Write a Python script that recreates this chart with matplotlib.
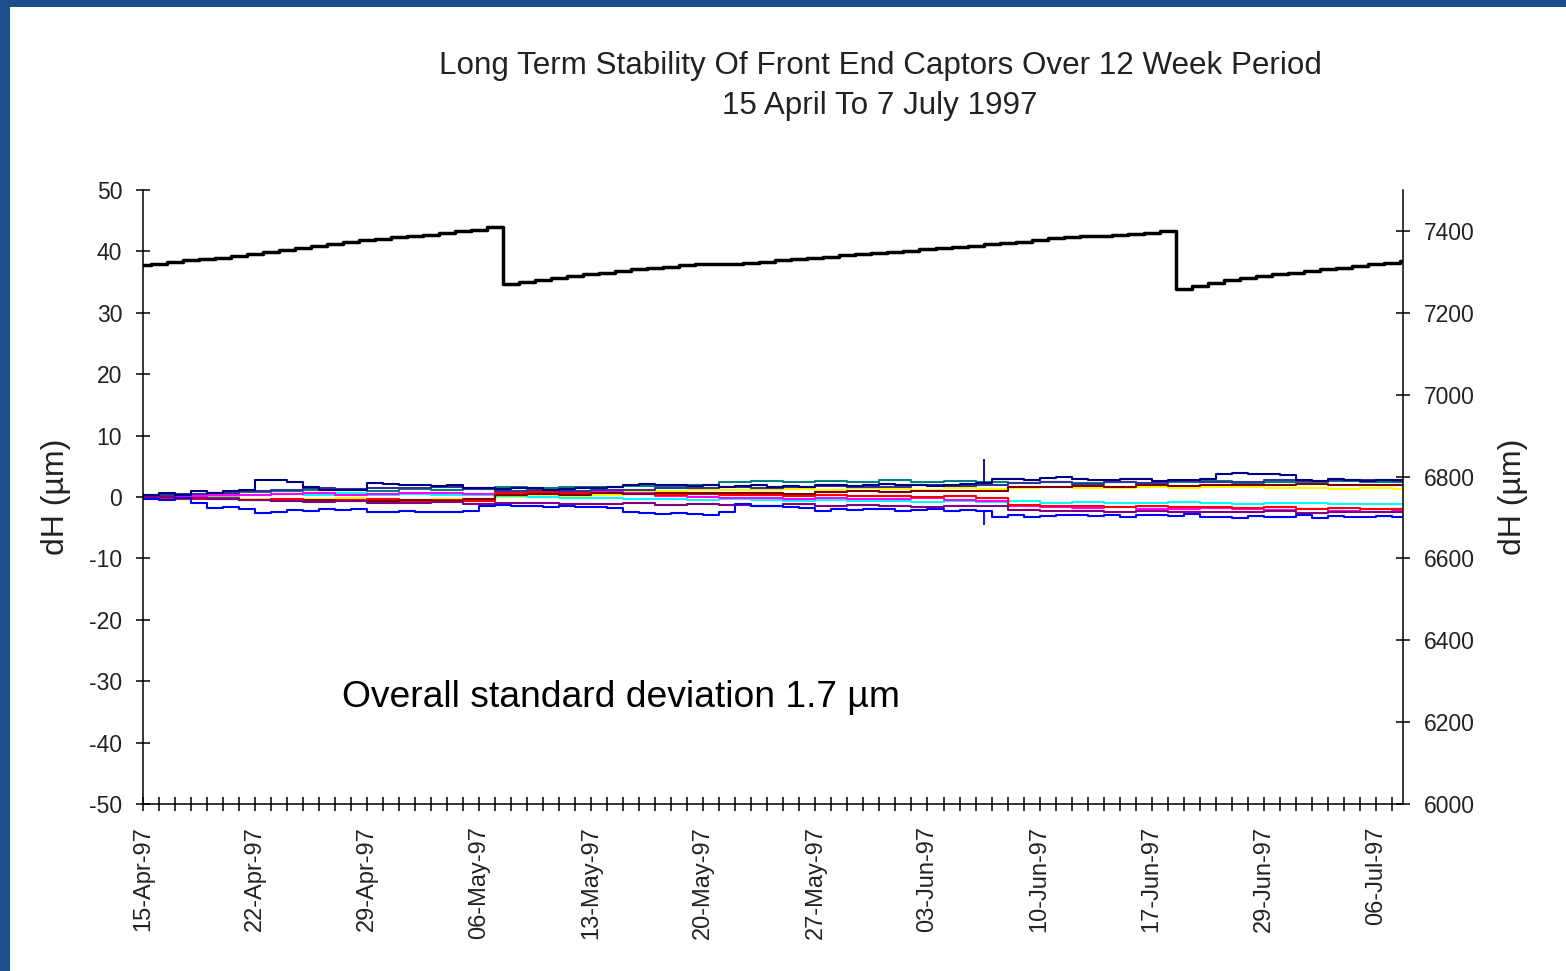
import numpy as np
import matplotlib
matplotlib.use('Agg')
import matplotlib.pyplot as plt
from matplotlib.patches import Rectangle

plt.rcParams['font.family'] = ['Liberation Sans', 'DejaVu Sans']
plt.rcParams['axes.unicode_minus'] = False

# category axis: one slot per measurement day, labelled once a week
TICK_LABELS = ['15-Apr-97', '22-Apr-97', '29-Apr-97', '06-May-97', '13-May-97', '20-May-97',
               '27-May-97', '03-Jun-97', '10-Jun-97', '17-Jun-97', '29-Jun-97', '06-Jul-97']
LABEL_DAYS = [0, 7, 14, 21, 28, 35, 42, 49, 56, 63, 70, 77]
N_TICKS = 79

# reference captor height (right axis), one value per day
REF_HEIGHT = [7317, 7320, 7324, 7328, 7331, 7335, 7339, 7344, 7348, 7353,
              7358, 7362, 7367, 7372, 7377, 7380, 7384, 7387, 7391, 7395,
              7399, 7402, 7410, 7271, 7275, 7280, 7285, 7290, 7295, 7298,
              7302, 7306, 7310, 7313, 7316, 7318, 7319, 7320, 7322, 7325,
              7328, 7331, 7334, 7337, 7340, 7343, 7346, 7349, 7352, 7355,
              7358, 7361, 7364, 7367, 7370, 7374, 7378, 7382, 7386, 7388,
              7388, 7390, 7392, 7395, 7399, 7258, 7266, 7272, 7280, 7286,
              7290, 7294, 7298, 7302, 7306, 7310, 7314, 7318, 7322, 7326]

# dH of the front end captors (left axis), daily readings for the outer two
DH_NAVY = [0.3, 0.6, 0.4, 0.9, 0.7, 1.0, 1.1, 2.7, 2.8, 2.5, 1.6, 1.2, 1.1, 1.1, 2.2, 2.1,
           1.9, 2.0, 1.8, 1.9, 1.5, 1.4, 1.3, 1.5, 1.4, 1.2, 1.3, 1.5, 1.4, 1.6, 2.0, 2.1,
           1.9, 2.0, 1.8, 1.9, 1.7, 1.8, 1.9, 1.6, 1.8, 1.7, 1.9, 2.0, 1.8, 1.9, 2.1, 1.9,
           2.0, 1.8, 2.0, 2.1, 2.2, 3.0, 3.0, 2.8, 3.1, 3.2, 3.0, 2.8, 2.7, 2.9, 3.0, 2.6,
           2.8, 2.7, 3.0, 3.8, 3.9, 3.7, 3.8, 3.6, 2.8, 2.6, 2.9, 2.7, 2.6, 2.8, 2.7, 2.7, 2.7]
DH_BLUE = [-0.3, -0.5, -0.2, -1.0, -1.8, -1.7, -1.9, -2.6, -2.5, -2.1, -2.2, -2.0, -2.1, -2.0,
           -2.4, -2.5, -2.3, -2.4, -2.4, -2.5, -2.3, -1.4, -1.3, -1.5, -1.4, -1.6, -1.5, -1.7,
           -1.6, -1.8, -2.4, -2.6, -2.8, -2.6, -2.7, -2.9, -2.5, -1.2, -1.5, -1.4, -1.6, -1.8,
           -2.2, -2.0, -2.1, -1.9, -2.0, -2.2, -2.1, -2.0, -2.2, -2.1, -2.3, -3.2, -3.0, -3.3,
           -3.1, -3.0, -2.9, -3.1, -3.0, -3.2, -2.9, -3.0, -3.1, -2.8, -3.3, -3.2, -3.4, -3.1,
           -3.3, -3.2, -3.0, -3.4, -3.1, -3.3, -3.2, -3.1, -3.2, -3.2, -3.2]

# the remaining captors, read every second day
DH_TEAL = [0.1, 0.3, 0.5, 0.8, 1.0, 1.2, 1.1, 0.9, 1.3, 1.2, 1.4, 1.6, 1.5, 1.7, 1.6, 1.8, 1.7,
           1.9, 2.5, 2.6, 2.4, 2.6, 2.5, 2.7, 2.4, 2.6, 2.5, 2.3, 2.4, 2.2, 2.5, 2.3, 2.4, 2.6,
           2.3, 2.5, 2.4, 2.6, 2.4, 2.5, 2.5]
DH_YELLOW = [0.0, -0.3, -0.2, -0.4, -0.3, -0.4, -0.2, -0.3, -0.5, -0.4, -0.3, 0.0, 0.2, 0.1,
             0.3, 0.9, 1.0, 1.1, 1.2, 1.1, 1.3, 1.2, 1.4, 1.3, 1.2, 1.4, 1.3, 1.5, 1.6, 1.4,
             1.5, 1.6, 1.5, 1.7, 1.6, 1.5, 1.4, 1.3, 1.4, 1.3, 1.3]
DH_MAROON = [0.0, -0.2, -0.4, -0.5, -0.6, -0.5, -0.7, -0.6, -0.5, -0.6, -0.4, 0.3, 0.5, 0.4,
             0.6, 0.5, 0.7, 0.6, 0.6, 0.7, 0.5, 0.8, 0.9, 0.8, 1.0, 0.9, 1.0, 1.6, 1.7, 1.8,
             1.6, 1.9, 1.8, 2.0, 1.9, 2.0, 2.1, 1.9, 2.0, 2.0, 2.0]
DH_MAGENTA = [0.1, 0.2, 0.4, 0.3, 0.5, 0.6, 0.4, 0.5, 0.6, 0.7, 0.5, 0.8, 0.9, 0.7, 0.8, 0.6,
              0.2, 0.0, -0.2, -0.1, -0.3, -0.2, -0.4, -0.3, -0.2, -0.5, -0.6, -1.5, -1.6, -1.8,
              -1.7, -1.9, -2.0, -1.8, -2.0, -2.1, -1.9, -2.2, -2.0, -2.1, -2.1]
DH_CYAN = [0.0, 0.3, 0.1, 0.4, 0.5, 0.3, 0.6, 0.4, 0.5, 0.3, 0.4, 0.1, 0.0, -0.2, -0.1, -0.3,
           -0.4, -0.5, -0.4, -0.5, -0.6, -0.5, -0.7, -0.6, -0.8, -0.7, -0.8, -0.7, -0.9, -0.8,
           -1.0, -0.9, -0.8, -1.0, -1.1, -0.9, -1.0, -1.2, -1.1, -1.2, -1.2]
DH_PURPLE = [0.0, -0.1, -0.3, -0.5, -0.6, -0.8, -0.7, -0.9, -1.0, -0.8, -1.1, -1.0, -0.9, -1.1,
             -1.2, -1.0, -1.3, -1.2, -1.3, -1.4, -1.2, -1.5, -1.3, -1.4, -1.6, -1.5, -1.5, -2.1,
             -2.3, -2.2, -2.4, -2.3, -2.5, -2.4, -2.5, -2.3, -2.6, -2.4, -2.5, -2.5, -2.5]
DH_SLATE = [0.3, 0.5, 0.7, 1.0, 1.2, 1.4, 1.3, 1.5, 1.4, 1.6, 1.3, 1.0, 1.1, 0.9, 1.2, 1.1, 1.5,
            1.4, 1.6, 1.5, 1.7, 1.8, 1.6, 1.7, 1.9, 1.8, 1.9, 2.2, 2.4, 2.1, 2.5, 2.3, 2.6, 2.4,
            2.5, 2.7, 2.6, 2.8, 2.7, 2.6, 2.6]
DH_RED = [-0.1, -0.3, -0.2, -0.5, -0.4, -0.6, -0.5, -0.4, -0.6, -0.5, -0.7, 0.7, 0.8, 0.6, 0.7,
          0.5, 0.4, 0.5, 0.3, 0.4, 0.2, 0.3, 0.1, 0.2, 0.0, 0.1, -0.1, -1.3, -1.5, -1.4, -1.6,
          -1.5, -1.7, -1.6, -1.8, -1.7, -1.9, -1.8, -2.0, -1.9, -1.9]

# glitch on 52-53 day: short spikes in two captors
GLITCH_DAY = 52.5
GLITCH_NAVY = (2.2, 6.2)
GLITCH_BLUE = (-2.3, -4.6)

STD_TEXT = 'Overall standard deviation 1.7 \u00b5m'

days_daily = np.arange(len(DH_NAVY))
days_even = np.arange(len(DH_TEAL)) * 2
days_ref = np.arange(len(REF_HEIGHT))

# white page with a blue frame along the top and left edges
fig = plt.figure(figsize=(15.66, 9.71), dpi=100, facecolor='white')
fig.patches.append(Rectangle((0, 0), 10 / 1566, 1, transform=fig.transFigure,
                             facecolor='#1c4f8d', edgecolor='none'))
fig.patches.append(Rectangle((0, 1 - 7 / 971), 1, 7 / 971, transform=fig.transFigure,
                             facecolor='#1c4f8d', edgecolor='none'))

ax = fig.add_axes([143 / 1566, 1 - 804 / 971, 1260 / 1566, 614 / 971])
ax.patch.set_alpha(0)
ax2 = ax.twinx()

coarse = [(DH_TEAL, '#008080'), (DH_YELLOW, '#ffff00'), (DH_CYAN, '#00ffff'),
          (DH_MAGENTA, '#ff00ff'), (DH_RED, '#ff0000'), (DH_MAROON, '#800000'),
          (DH_PURPLE, '#800080'), (DH_SLATE, '#333399')]
for vals, col in coarse:
    ax.plot(days_even, vals, drawstyle='steps-post', color=col, lw=1.5)
ax.plot(days_daily, DH_BLUE, drawstyle='steps-post', color='#0000ff', lw=1.5)
ax.plot(days_daily, DH_NAVY, drawstyle='steps-post', color='#000080', lw=1.5)
ax.vlines(GLITCH_DAY, *GLITCH_NAVY, color='#000080', lw=1.3)
ax.vlines(GLITCH_DAY, *GLITCH_BLUE, color='#0000ff', lw=1.3)

ax2.plot(days_ref, REF_HEIGHT, drawstyle='steps-mid', color='black', lw=2.5)

ax.set_xlim(0, 78.7)
ax.set_ylim(-50, 50)
ax.set_yticks(np.arange(-50, 51, 10))
ax2.set_ylim(6000, 7500)
ax2.set_yticks(np.arange(6000, 7401, 200))

ax.set_xticks(LABEL_DAYS)
ax.set_xticklabels(TICK_LABELS, rotation=90)
ax.set_xticks(np.arange(N_TICKS), minor=True)

for a in (ax, ax2):
    for s in a.spines.values():
        s.set_visible(False)
ax.spines['left'].set_visible(True)
ax.spines['bottom'].set_visible(True)
ax2.spines['right'].set_visible(True)
for s in (ax.spines['left'], ax.spines['bottom'], ax2.spines['right']):
    s.set_linewidth(1.1)
    s.set_color('black')

ax.tick_params(axis='x', which='both', direction='inout', length=10, width=1.1,
               pad=11, labelsize=17, colors='black')
ax.tick_params(axis='y', direction='inout', length=10, width=1.1, pad=10,
               labelsize=16.5, colors='black')
ax2.tick_params(axis='y', direction='inout', length=10, width=1.1, pad=10,
                labelsize=16.5, colors='black')
for lab in ax.get_yticklabels() + ax2.get_yticklabels() + ax.get_xticklabels():
    lab.set_color('#222222')

ax.set_ylabel('dH (\u00b5m)', fontsize=23, color='#222222')
ax2.set_ylabel('dH (\u00b5m)', fontsize=23, color='#222222')
ax.yaxis.set_label_coords(-0.057, 0.5)
ax2.yaxis.set_label_coords(1.075, 0.5)

ax.text(0.158, 0.173, STD_TEXT, transform=ax.transAxes, ha='left', va='center',
        fontsize=26.8, color='black')

fig.text(880 / 1566, 1 - 86 / 971,
         'Long Term Stability Of Front End Captors Over 12 Week Period\n15 April To 7 July 1997',
         ha='center', va='center', fontsize=22.6, color='#222222', linespacing=1.4)

fig.savefig('out.png', dpi=100, facecolor=fig.get_facecolor())
